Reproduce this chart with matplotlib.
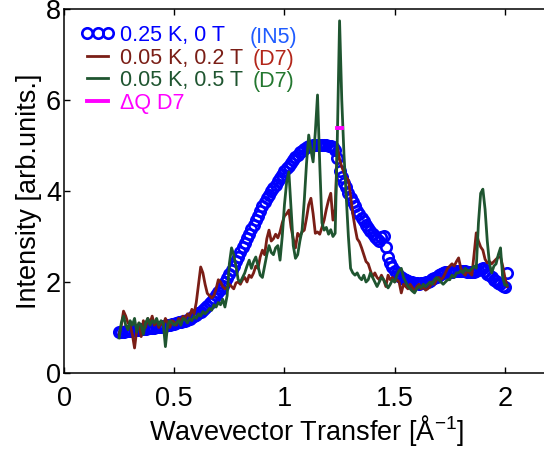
import numpy as np
import matplotlib
matplotlib.use("Agg")
import matplotlib.pyplot as plt

plt.rcParams["font.family"] = ["Liberation Sans", "DejaVu Sans"]
plt.rcParams["mathtext.default"] = "regular"

# IN5, 0.25 K, 0 T
q_in5 = np.round(np.arange(0.25, 2.015, 0.01), 2)
i_in5 = [
    0.90, 0.91, 0.91, 0.92, 0.92, 0.93, 0.93, 0.94, 0.94, 0.95,
    0.96, 0.96, 0.97, 0.98, 0.99, 0.99, 1.00, 1.01, 1.02, 1.02,
    1.03, 1.04, 1.05, 1.06, 1.07, 1.08, 1.10, 1.11, 1.12, 1.14,
    1.15, 1.17, 1.19, 1.22, 1.25, 1.28, 1.31, 1.35, 1.39, 1.43,
    1.48, 1.53, 1.58, 1.64, 1.71, 1.78, 1.85, 1.92, 2.00, 2.08,
    2.17, 2.26, 2.36, 2.46, 2.56, 2.66, 2.76, 2.86, 2.96, 3.06,
    3.16, 3.26, 3.36, 3.46, 3.56, 3.66, 3.75, 3.84, 3.92, 4.00,
    4.07, 4.14, 4.21, 4.29, 4.36, 4.43, 4.50, 4.56, 4.62, 4.68,
    4.74, 4.80, 4.85, 4.89, 4.93, 4.96, 4.98, 5.00, 5.01, 5.01,
    5.02, 5.02, 5.02, 5.01, 5.01, 5.00, 4.99, 4.96, 4.90, 4.72,
    4.45, 4.30, 4.18, 4.08, 3.96, 3.85, 3.76, 3.66, 3.57, 3.49,
    3.40, 3.33, 3.26, 3.19, 3.12, 3.05, 2.99, 2.94, 2.90, 2.98,
    3.02, 2.78, 2.55, 2.42, 2.33, 2.25, 2.19, 2.14, 2.10, 2.07,
    2.05, 2.03, 2.01, 2.00, 1.98, 1.97, 1.96, 1.97, 1.98, 1.99,
    2.00, 2.03, 2.06, 2.09, 2.12, 2.15, 2.17, 2.19, 2.21, 2.22,
    2.22, 2.23, 2.24, 2.25, 2.25, 2.25, 2.24, 2.24, 2.23, 2.22,
    2.22, 2.22, 2.24, 2.26, 2.28, 2.30, 2.25, 2.18, 2.15, 2.10,
    2.05, 2.02, 1.98, 1.95, 1.92, 1.90, 2.20,
]

# D7 grid
q_d7 = np.round(np.arange(0.25, 2.015, 0.01), 2)

# D7, 0.05 K, 0.2 T
i_d7_02 = [
    0.85, 1.05, 1.36, 1.25, 1.10, 1.05, 0.85, 0.55, 0.95, 1.10,
    0.80, 1.15, 1.00, 1.20, 1.10, 1.25, 1.05, 1.15, 1.00, 1.10,
    1.05, 1.20, 1.10, 1.00, 1.15, 1.12, 1.05, 1.20, 1.15, 1.25,
    1.20, 1.30, 1.25, 1.40, 1.30, 1.55, 1.95, 2.33, 2.20, 1.95,
    1.75, 1.70, 1.65, 1.70, 1.85, 2.05, 2.00, 1.90, 1.85, 1.88,
    1.95, 1.90, 1.85, 1.98, 2.00, 1.95, 2.05, 2.10, 2.00, 2.15,
    2.10, 2.20, 2.35, 2.30, 2.55, 2.70, 2.60, 2.95, 3.14, 2.90,
    2.95, 3.05, 2.97, 3.10, 3.30, 3.45, 3.50, 3.58, 3.20, 2.95,
    2.75, 3.07, 3.00, 3.10, 3.14, 3.40, 3.70, 3.84, 3.50, 3.07,
    3.10, 3.05, 3.20, 3.36, 3.60, 3.80, 3.95, 3.36, 3.60, 4.97,
    4.70, 4.53, 4.40, 4.30, 4.24, 3.90, 3.50, 3.20, 2.95, 2.88,
    2.75, 2.60, 2.45, 2.40, 2.25, 2.11, 2.20, 2.10, 2.05, 2.15,
    2.05, 1.90, 2.15, 2.05, 2.10, 2.00, 2.05, 2.00, 1.76, 1.95,
    1.90, 1.85, 1.95, 1.88, 1.80, 1.90, 1.95, 1.85, 1.90, 1.82,
    1.85, 1.90, 2.00, 1.95, 2.05, 2.10, 2.05, 2.10, 2.20, 2.30,
    2.35, 2.40, 2.35, 2.45, 2.53, 2.30, 2.20, 2.15, 2.25, 2.20,
    2.15, 2.60, 3.08, 2.90, 2.77, 2.70, 2.50, 2.42, 2.45, 2.40,
    2.45, 2.50, 2.55, 2.55, 2.35, 2.10, 1.90,
]

# D7, 0.05 K, 0.5 T
i_d7_05 = [
    0.77, 1.10, 1.25, 1.05, 0.95, 1.15, 1.05, 1.20, 0.90, 1.10,
    1.05, 0.85, 1.10, 1.20, 1.05, 1.15, 1.10, 1.20, 1.05, 1.15,
    1.10, 0.58, 1.05, 1.15, 1.10, 1.05, 1.10, 1.15, 1.05, 1.20,
    1.17, 1.10, 1.20, 1.15, 1.25, 1.20, 1.30, 1.25, 1.35, 1.30,
    1.35, 1.42, 1.38, 1.50, 1.45, 1.55, 1.50, 1.62, 1.45, 1.70,
    2.40, 2.75, 2.60, 2.35, 2.05, 2.00, 2.10, 2.20, 2.35, 2.48,
    2.30, 2.45, 2.55, 2.35, 2.15, 2.10, 2.35, 2.60, 2.80, 2.65,
    2.60, 2.75, 2.80, 2.48, 3.00, 3.70, 4.20, 4.42, 3.60, 2.80,
    2.52, 2.60, 2.90, 3.14, 3.80, 4.60, 5.23, 4.90, 4.64, 5.30,
    6.11, 4.60, 3.30, 3.14, 3.20, 3.05, 3.15, 3.00, 3.07, 5.20,
    7.74, 6.00, 4.80, 3.90, 3.00, 2.30, 2.20, 2.15, 2.20, 2.10,
    2.05, 2.15, 2.00, 2.05, 2.20, 2.10, 2.00, 1.90, 2.00, 2.10,
    2.05, 1.95, 1.87, 1.95, 2.05, 2.00, 2.15, 2.25, 2.30, 2.10,
    2.00, 1.90, 1.85, 1.80, 1.76, 1.85, 1.90, 1.88, 1.95, 1.90,
    1.95, 2.00, 1.95, 2.05, 2.10, 2.05, 2.00, 1.95, 2.00, 2.05,
    2.05, 2.15, 2.10, 2.20, 2.20, 2.25, 2.20, 2.30, 2.25, 2.25,
    2.30, 2.35, 2.30, 3.30, 3.95, 4.04, 3.60, 2.90, 2.40, 2.20,
    2.35, 2.40, 2.60, 2.75, 2.10, 1.93, 1.93,
]

# D7 Q resolution at the main peak
dq_q = [1.240, 1.262]
dq_i = [5.38, 5.38]

blue = "#0000ff"
red = "#7a1e16"
green = "#1f5530"
magenta = "#ff00ff"

fig = plt.figure(figsize=(5.44, 4.50), dpi=100)
ax = fig.add_axes([64 / 544, 77 / 450, 485 / 544, 364 / 450])

ax.plot(q_in5, i_in5, "o", mfc="none", mec=blue, ms=7.5, mew=1.9,
        label="0.25 K, 0 T")
ax.plot(q_d7, i_d7_02, "-", color=red, lw=2.0, label="0.05 K, 0.2 T")
ax.plot(q_d7, i_d7_05, "-", color=green, lw=2.0, label="0.05 K, 0.5 T")
ax.plot(dq_q, dq_i, "-", color=magenta, lw=2.8, label=r"ΔQ D7")

ax.set_xlim(0, 2.2)
ax.set_ylim(0, 8)
ax.set_xticks([0, 0.5, 1, 1.5, 2])
ax.set_xticklabels(["0", "0.5", "1", "1.5", "2"])
ax.set_yticks([0, 2, 4, 6, 8])
ax.tick_params(direction="in", length=4, width=1, top=True, right=False,
               labelsize=19.5)
ax.tick_params(axis="x", pad=9)
ax.tick_params(axis="y", pad=2)
for side in ["left", "bottom", "top", "right"]:
    ax.spines[side].set_linewidth(1.1)

ax.set_xlabel("Wavevector Transfer [Å$^{-1}$]", fontsize=19.5, labelpad=1)
ax.set_ylabel("Intensity [arb.units.]", fontsize=19.5, labelpad=3)

leg = ax.legend(loc="upper left", bbox_to_anchor=(16.5 / 485, 1 - 16 / 364),
                frameon=False, fontsize=15.5, numpoints=3, handlelength=1.58,
                handletextpad=0.25, labelspacing=0.07, borderpad=0.0,
                borderaxespad=0.0)
for txt, col in zip(leg.get_texts(), [blue, red, green, magenta]):
    txt.set_color(col)

ax.text(0.844, 7.25, "(IN5)", color="#1f5cff", fontsize=15.5, va="baseline")
ax.text(0.857, 6.77, "(D7)", color="#b3261a", fontsize=15.5, va="baseline")
ax.text(0.857, 6.29, "(D7)", color="#23772f", fontsize=15.5, va="baseline")

fig.savefig("out.png", dpi=100)
